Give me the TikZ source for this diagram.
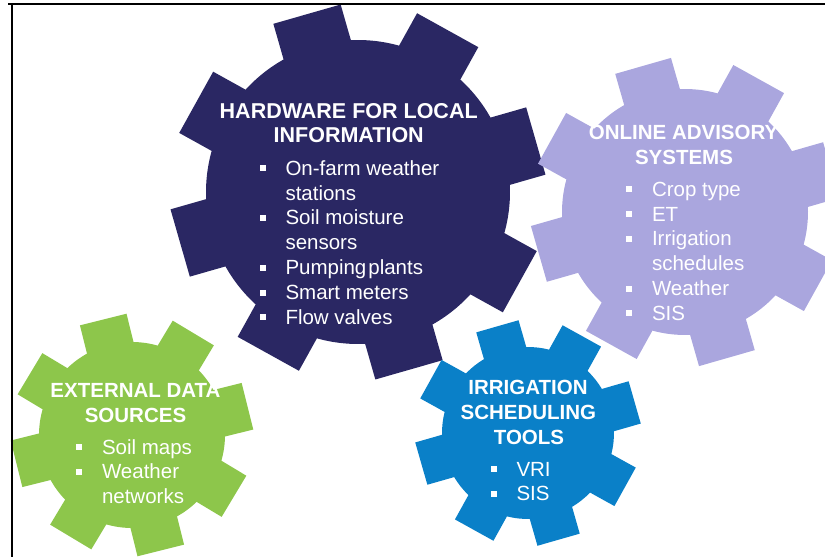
\documentclass[tikz,border=0pt]{standalone}
\usepackage{fontspec}
\setmainfont{Liberation Sans}

\definecolor{gearnavy}{RGB}{42,39,99}
\definecolor{gearlilac}{RGB}{170,166,222}
\definecolor{geargreen}{RGB}{141,198,75}
\definecolor{gearblue}{RGB}{10,128,200}

% Eight-tooth gear: centre x, centre y, root radius, tip radius,
% half tooth width, angle of first tooth, fill colour
\newcommand\drawgear[7]{%
  \pgfmathsetmacro\gdelta{asin(#5/#3)}%
  \fill[#7] ({#1+#3*cos(#6-\gdelta)},{#2+#3*sin(#6-\gdelta)})
    \foreach \k [evaluate=\k as \ga using #6+45*\k] in {0,...,7}{
      -- ({#1+#4*cos(\ga)+#5*sin(\ga)},{#2+#4*sin(\ga)-#5*cos(\ga)})
      -- ({#1+#4*cos(\ga)-#5*sin(\ga)},{#2+#4*sin(\ga)+#5*cos(\ga)})
      -- ({#1+#3*cos(\ga+\gdelta)},{#2+#3*sin(\ga+\gdelta)})
      arc[start angle=\ga+\gdelta, end angle=\ga+45-\gdelta, radius=#3]
    } -- cycle;
}

\newcommand\bulsq{\makebox[25.8pt][l]{\rule[4pt]{6pt}{6pt}}}

\tikzset{
  hdr/.style={text=white, inner sep=0pt, anchor=base,
    font=\bfseries\fontsize{20.5}{24}\selectfont},
  bighdr/.style={hdr, font=\bfseries\fontsize{21.5}{24}\selectfont},
  itm/.style={text=white, inner sep=0pt, anchor=base west,
    font=\fontsize{20.5}{24}\selectfont},
  rulefr/.style={line width=2pt, black},
}

\begin{document}
\begin{tikzpicture}[x=1pt,y=1pt]
\useasboundingbox (0,0) rectangle (825,-557);

% gears
\drawgear{358}{-192}{152}{185}{35}{106}{gearnavy}
\drawgear{685}{-212}{123}{152}{29}{106}{gearlilac}
\drawgear{132}{-435}{93}{119}{24}{104}{geargreen}
\drawgear{528}{-433}{86}{111}{22}{106}{gearblue}

% hardware for local information
\node[bighdr] (hw-h1) at (348.7,-118) {HARDWARE FOR LOCAL};
\node[bighdr] (hw-h2) at (348.7,-142.8) {INFORMATION};
\node[itm] (hw-1a) at (259.5,-175) {\bulsq On-farm weather};
\node[itm] (hw-1b) at (285.3,-200) {stations};
\node[itm] (hw-2a) at (259.5,-224.9) {\bulsq Soil moisture};
\node[itm] (hw-2b) at (285.3,-249.7) {sensors};
\node[itm] (hw-3) at (259.5,-274.6) {\bulsq Pumping\hspace{2pt}plants};
\node[itm] (hw-4) at (259.5,-299.5) {\bulsq Smart meters};
\node[itm] (hw-5) at (259.5,-324.3) {\bulsq Flow valves};

% online advisory systems
\node[hdr] (oa-h1) at (683.6,-139.6) {ONLINE ADVISORY};
\node[hdr] (oa-h2) at (684,-164.1) {SYSTEMS};
\node[itm] (oa-1) at (626,-196) {\bulsq Crop type};
\node[itm] (oa-2) at (626,-221) {\bulsq ET};
\node[itm] (oa-3a) at (626,-245.8) {\bulsq Irrigation};
\node[itm] (oa-3b) at (651.8,-270.7) {schedules};
\node[itm] (oa-4) at (626,-295.6) {\bulsq Weather};
\node[itm] (oa-5) at (626,-320.4) {\bulsq SIS};

% external data sources
\node[hdr] (ex-h1) at (135.5,-397) {EXTERNAL DATA};
\node[hdr] (ex-h2) at (135.5,-422) {SOURCES};
\node[itm] (ex-1) at (76,-454) {\bulsq Soil maps};
\node[itm] (ex-2a) at (76,-478.9) {\bulsq Weather};
\node[itm] (ex-2b) at (101.8,-503.7) {networks};

% irrigation scheduling tools
\node[hdr] (is-h1) at (528,-394.3) {IRRIGATION};
\node[hdr] (is-h2) at (528.4,-419.2) {SCHEDULING};
\node[hdr] (is-h3) at (529,-444) {TOOLS};
\node[itm] (is-1) at (490.5,-476) {\bulsq VRI};
\node[itm] (is-2) at (490.5,-500.9) {\bulsq SIS};

% page frame
\draw[rulefr] (8,-4.3) -- (825,-4.3);
\draw[rulefr] (11.5,-4.3) -- (11.5,-557);
\end{tikzpicture}
\end{document}
